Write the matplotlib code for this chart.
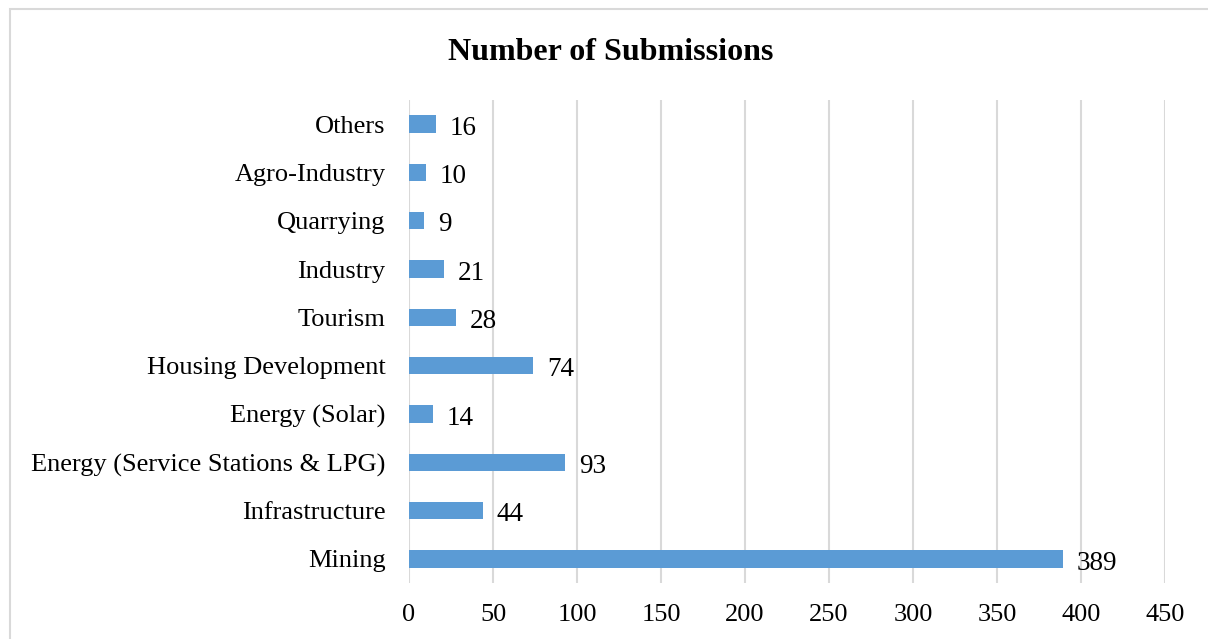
import matplotlib

matplotlib.use("Agg")
import matplotlib.pyplot as plt
from matplotlib.patches import Rectangle

CATEGORIES = ["Mining", "Infrastructure", "Energy (Service Stations & LPG)",
              "Energy (Solar)", "Housing Development", "Tourism", "Industry",
              "Quarrying", "Agro-Industry", "Others"]
SUBMISSIONS = [389, 44, 93, 14, 74, 28, 21, 9, 10, 16]
XTICKS = [0, 50, 100, 150, 200, 250, 300, 350, 400, 450]

BAR = "#5b9bd5"
GRID = "#d9d9d9"

plt.rcParams["font.family"] = ["Liberation Serif", "DejaVu Serif"]

fig = plt.figure(figsize=(12.08, 6.39), dpi=100)
# light chart-area border (Excel style)
fig.patches.append(Rectangle((10 / 1208, -0.1), 1.2, 1 - 9 / 639 + 0.1,
                             transform=fig.transFigure, fill=False,
                             edgecolor=GRID, linewidth=1.5))

ax = fig.add_axes([409 / 1208, 1 - 583 / 639, 756 / 1208, 483 / 639])
y = range(len(CATEGORIES))
bars = ax.barh(list(y), SUBMISSIONS, height=0.36, color=BAR, zorder=3)
for b, v in zip(bars, SUBMISSIONS):
    ax.annotate(str(v), (v, b.get_y() + b.get_height() / 2),
                xytext=(10, -3), textcoords="offset points",
                ha="left", va="center", fontsize=19.5, color="#000000")

ax.set_xlim(0, 450)
ax.set_ylim(-0.5, len(CATEGORIES) - 0.5)
ax.set_xticks(XTICKS)
ax.set_yticks(list(y))
ax.set_yticklabels(CATEGORIES)
ax.tick_params(axis="both", length=0, labelsize=19)
ax.tick_params(axis="y", pad=17)
ax.tick_params(axis="x", pad=15)
ax.xaxis.grid(True, color=GRID, linewidth=1.5, zorder=0)
for sp in ax.spines.values():
    sp.set_visible(False)

fig.text(611 / 1208, 1 - 53 / 639, "Number of Submissions", ha="center",
         va="center", fontsize=23, fontweight="bold")

fig.savefig("out.png", dpi=100)
